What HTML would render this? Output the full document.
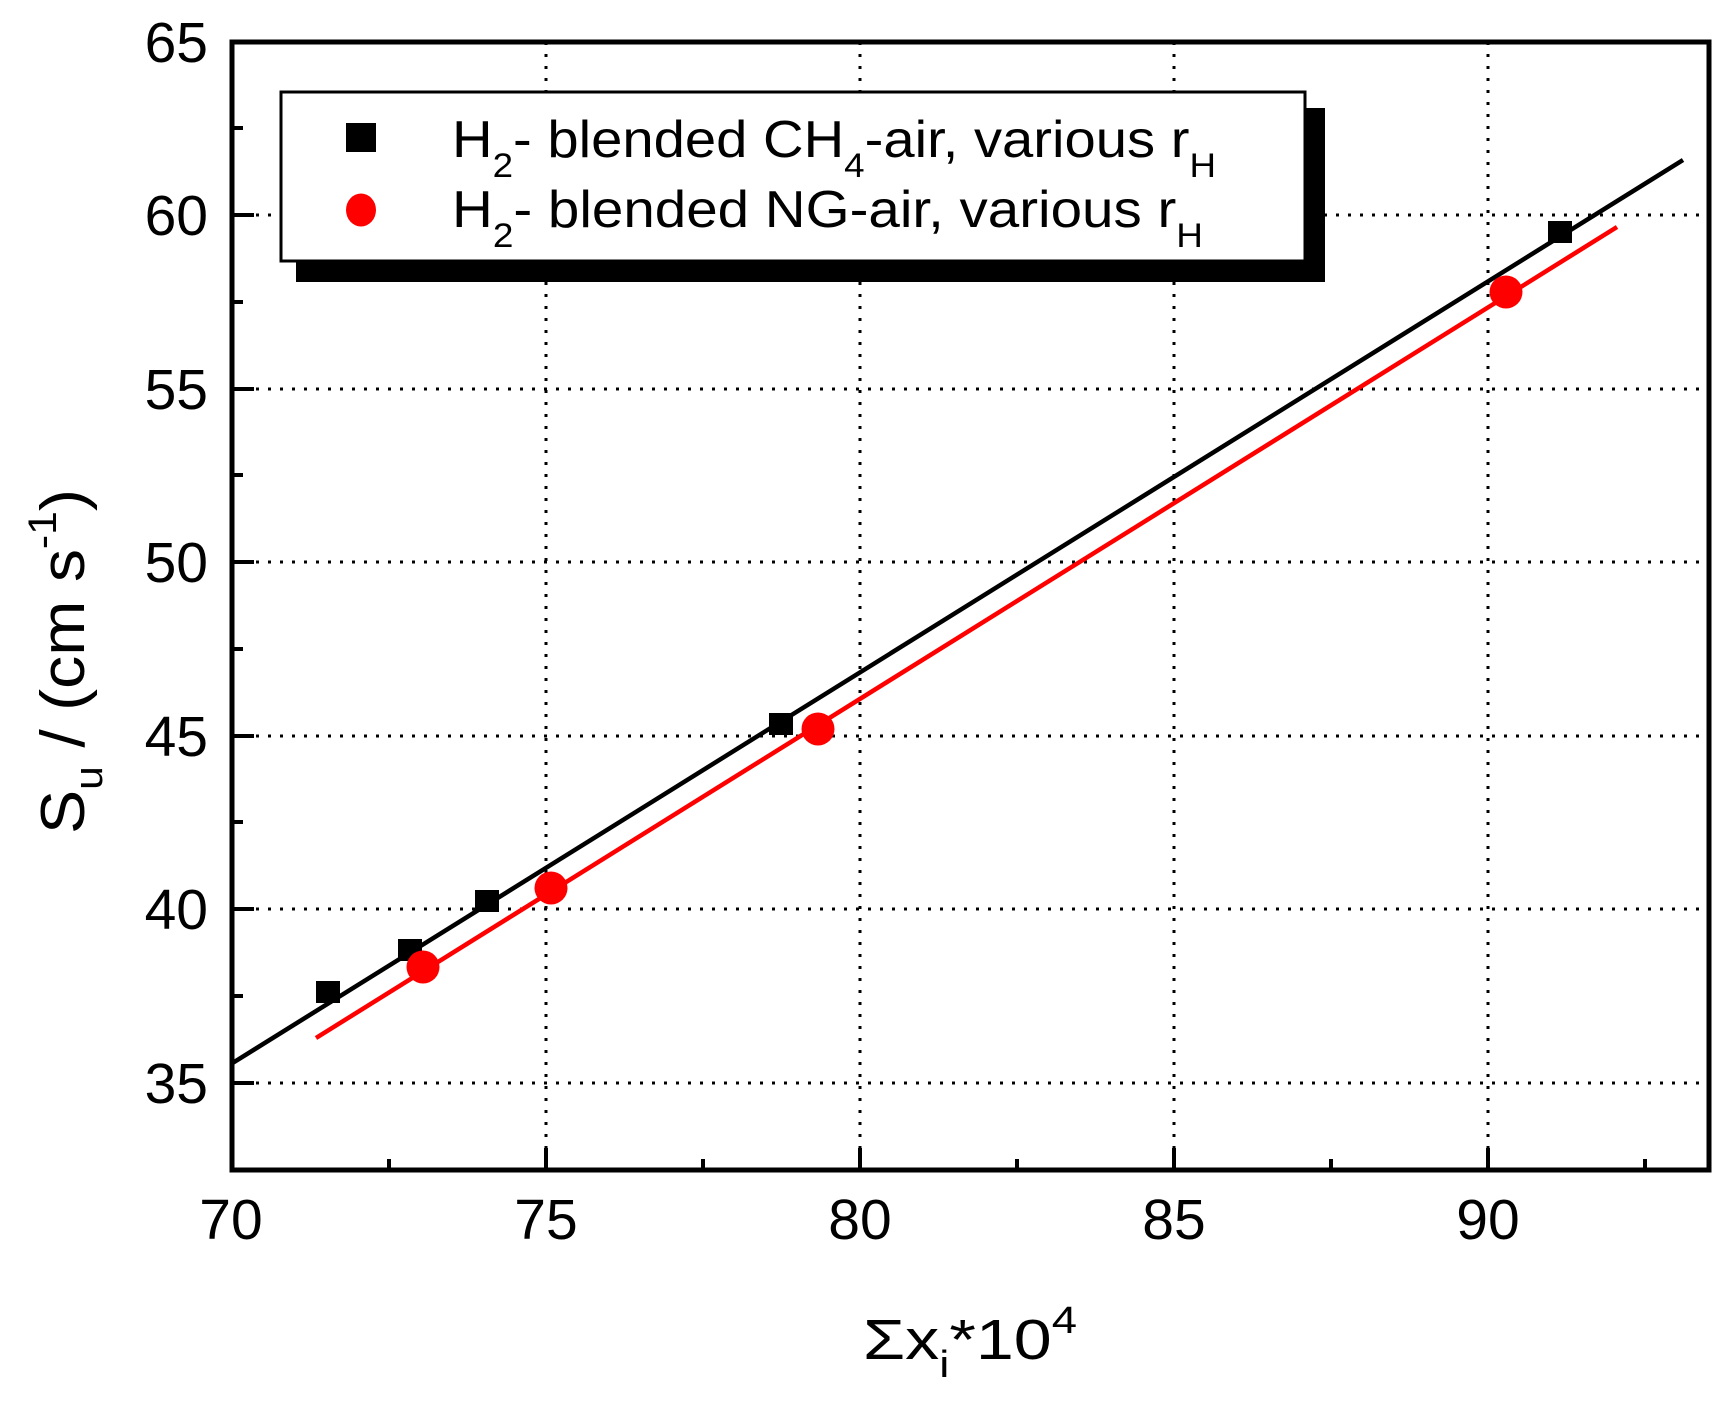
<!DOCTYPE html>
<html><head><meta charset="utf-8"><style>
html,body{margin:0;padding:0;background:#fff}
svg{display:block}
text{font-family:"Liberation Sans",Arial,sans-serif;fill:#000}
</style></head><body>
<svg width="1732" height="1404" viewBox="0 0 1732 1404" xmlns="http://www.w3.org/2000/svg">
<g stroke="#000" stroke-width="3" stroke-dasharray="3 9">
<line x1="232" y1="1083" x2="1709" y2="1083"/>
<line x1="232" y1="909" x2="1709" y2="909"/>
<line x1="232" y1="736" x2="1709" y2="736"/>
<line x1="232" y1="562" x2="1709" y2="562"/>
<line x1="232" y1="389" x2="1709" y2="389"/>
<line x1="232" y1="215" x2="1709" y2="215"/>
<line x1="546" y1="42" x2="546" y2="1170"/>
<line x1="860" y1="42" x2="860" y2="1170"/>
<line x1="1174" y1="42" x2="1174" y2="1170"/>
<line x1="1488" y1="42" x2="1488" y2="1170"/>
</g>
<g stroke="#000" stroke-width="4">
<line x1="232" y1="1083" x2="254" y2="1083"/><line x1="232" y1="909" x2="254" y2="909"/>
<line x1="232" y1="736" x2="254" y2="736"/><line x1="232" y1="562" x2="254" y2="562"/>
<line x1="232" y1="389" x2="254" y2="389"/><line x1="232" y1="215" x2="254" y2="215"/>
<line x1="232" y1="996" x2="243" y2="996"/><line x1="232" y1="822" x2="243" y2="822"/>
<line x1="232" y1="649" x2="243" y2="649"/><line x1="232" y1="475" x2="243" y2="475"/>
<line x1="232" y1="302" x2="243" y2="302"/><line x1="232" y1="128" x2="243" y2="128"/>
<line x1="546" y1="1170" x2="546" y2="1148"/><line x1="860" y1="1170" x2="860" y2="1148"/>
<line x1="1174" y1="1170" x2="1174" y2="1148"/><line x1="1488" y1="1170" x2="1488" y2="1148"/>
<line x1="389" y1="1170" x2="389" y2="1159"/><line x1="703" y1="1170" x2="703" y2="1159"/>
<line x1="1017" y1="1170" x2="1017" y2="1159"/><line x1="1331" y1="1170" x2="1331" y2="1159"/>
<line x1="1645" y1="1170" x2="1645" y2="1159"/>
</g>
<rect x="232" y="42" width="1477" height="1128" fill="none" stroke="#000" stroke-width="5"/>
<line x1="231" y1="1064" x2="1683" y2="160" stroke="#000" stroke-width="4.5"/>
<line x1="316" y1="1038" x2="1617" y2="227" stroke="#f00" stroke-width="4.5"/>
<g fill="#000">
<rect x="316" y="981" width="24" height="22"/>
<rect x="398" y="939" width="24" height="22"/>
<rect x="475" y="890" width="24" height="22"/>
<rect x="769" y="713" width="24" height="22"/>
<rect x="1548" y="221" width="24" height="22"/>
</g>
<g fill="#f00">
<circle cx="423" cy="967" r="16.5"/>
<circle cx="551" cy="888" r="16.5"/>
<circle cx="818" cy="729" r="16.5"/>
<circle cx="1506" cy="292" r="16.5"/>
</g>
<rect x="296" y="108" width="1029" height="174" fill="#000"/>
<rect x="281" y="92" width="1024" height="169" fill="#fff" stroke="#000" stroke-width="3"/>
<rect x="346" y="123" width="30" height="29" fill="#000"/>
<ellipse cx="361" cy="210" rx="15" ry="16.5" fill="#f00"/>
<text x="452" y="157" font-size="52" textLength="764" lengthAdjust="spacingAndGlyphs">H<tspan font-size="34" dy="20">2</tspan><tspan dy="-20">- blended CH</tspan><tspan font-size="34" dy="20">4</tspan><tspan dy="-20">-air, various r</tspan><tspan font-size="34" dy="20">H</tspan></text>
<text x="452" y="227" font-size="52" textLength="751" lengthAdjust="spacingAndGlyphs">H<tspan font-size="34" dy="20">2</tspan><tspan dy="-20">- blended NG-air, various r</tspan><tspan font-size="34" dy="20">H</tspan></text>
<g font-size="57" text-anchor="end">
<text x="208" y="1103">35</text><text x="208" y="929">40</text><text x="208" y="756">45</text>
<text x="208" y="582">50</text><text x="208" y="409">55</text><text x="208" y="235">60</text>
<text x="208" y="62">65</text>
</g>
<g font-size="57" text-anchor="middle">
<text x="231" y="1239">70</text><text x="546" y="1239">75</text><text x="860" y="1239">80</text>
<text x="1174" y="1239">85</text><text x="1488" y="1239">90</text>
</g>
<text x="863" y="1359" font-size="57" textLength="214" lengthAdjust="spacingAndGlyphs">Σx<tspan font-size="38" dy="18">i</tspan><tspan dy="-18">*10</tspan><tspan font-size="38" dy="-26">4</tspan></text>
<text transform="translate(84,834) rotate(-90)" font-size="62" textLength="345" lengthAdjust="spacingAndGlyphs">S<tspan font-size="40" dy="18">u</tspan><tspan dy="-18"> / (cm s</tspan><tspan font-size="40" dy="-28">-1</tspan><tspan dy="28">)</tspan></text>
</svg>
</body></html>
